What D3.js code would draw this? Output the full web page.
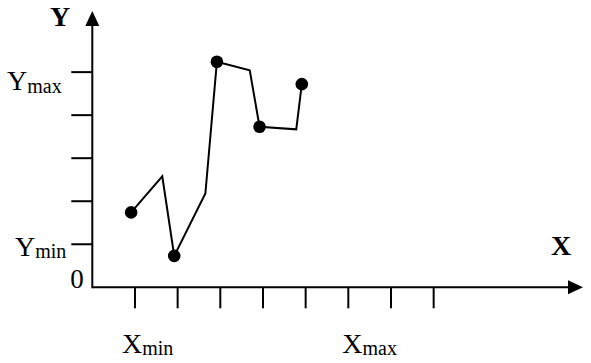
<!DOCTYPE html>
<html>
<head>
  <meta charset="utf-8">
  <script src="https://d3js.org/d3.v7.min.js"></script>
  <style>
    body { margin: 0; background: #fff; }
    text { font-family: "Liberation Serif", "Times New Roman", serif; fill: #000; }
  </style>
</head>
<body>
  <svg id="chart"></svg>
  <script>
    // chart values (axis units: one tick = 1)
    let xTicks = [1, 2, 3, 4, 5, 6, 7, 8];
    let yTicks = [1, 2, 3, 4, 5];
    let xTickLabels = [{ at: 1, main: "X", sub: "min" }, { at: 6, main: "X", sub: "max" }];
    let yTickLabels = [{ at: 5, main: "Y", sub: "max" }, { at: 1, main: "Y", sub: "min" }];
    let lineX = [0.91, 1.64, 1.92, 2.65, 2.92, 3.69, 3.92, 4.78, 4.91];
    let lineY = [1.74, 2.58, 0.73, 2.18, 5.24, 5.04, 3.73, 3.67, 4.72];
    let dotX = [0.91, 1.92, 2.92, 3.92, 4.91];
    let dotY = [1.74, 0.73, 5.24, 3.73, 4.72];
    let xEnd = 11.5, yEnd = 6.42;

    let width = 591, height = 363;
    let svg = d3.select("#chart").attr("width", width).attr("height", height);

    let x = d3.scaleLinear().domain([0, xEnd]).range([92.3, 583]);
    let y = d3.scaleLinear().domain([0, yEnd]).range([287.3, 11]);

    let arrowLen = 15, arrowHalf = 7;

    // axes lines
    svg.append("line")
      .attr("x1", x(0)).attr("y1", y(0))
      .attr("x2", x(xEnd) - arrowLen + 1).attr("y2", y(0))
      .attr("stroke", "#000").attr("stroke-width", 2);
    svg.append("line")
      .attr("x1", x(0)).attr("y1", y(0) + 1)
      .attr("x2", x(0)).attr("y2", y(yEnd) + arrowLen - 1)
      .attr("stroke", "#000").attr("stroke-width", 2);

    // arrow heads
    svg.append("path")
      .attr("d", `M${x(xEnd)},${y(0)} L${x(xEnd) - arrowLen},${y(0) - arrowHalf} L${x(xEnd) - arrowLen},${y(0) + arrowHalf} Z`)
      .attr("fill", "#000");
    svg.append("path")
      .attr("d", `M${x(0)},${y(yEnd)} L${x(0) - arrowHalf},${y(yEnd) + arrowLen} L${x(0) + arrowHalf},${y(yEnd) + arrowLen} Z`)
      .attr("fill", "#000");

    // ticks
    svg.selectAll(".xtick").data(xTicks).enter().append("line")
      .attr("class", "xtick")
      .attr("x1", d => x(d)).attr("x2", d => x(d))
      .attr("y1", y(0)).attr("y2", y(0) + 21)
      .attr("stroke", "#000").attr("stroke-width", 2);
    svg.selectAll(".ytick").data(yTicks).enter().append("line")
      .attr("class", "ytick")
      .attr("x1", x(0) - 21).attr("x2", x(0))
      .attr("y1", d => y(d)).attr("y2", d => y(d))
      .attr("stroke", "#000").attr("stroke-width", 2);

    // tick labels with subscripts
    let subLabel = (sel) => {
      sel.append("tspan").attr("font-size", 28).text(d => d.main);
      sel.append("tspan").attr("font-size", 20).attr("dy", 2.5).text(d => d.sub);
    };
    let xOff = { 1: -13, 6: -6 };
    svg.selectAll(".xlab").data(xTickLabels).enter().append("text")
      .attr("class", "xlab")
      .attr("x", d => x(d.at) + xOff[d.at])
      .attr("y", 352.7)
      .call(subLabel);
    let yOff = { 5: [7, 18.3], 1: [15, 11.4] };
    svg.selectAll(".ylab").data(yTickLabels).enter().append("text")
      .attr("class", "ylab")
      .attr("x", d => yOff[d.at][0])
      .attr("y", d => y(d.at) + yOff[d.at][1])
      .call(subLabel);

    svg.append("text")
      .attr("x", x(0) - 22).attr("y", y(0) + 0.5)
      .attr("font-size", 27)
      .text("0");

    // axis names
    svg.append("text")
      .attr("x", 551).attr("y", 255)
      .attr("font-size", 28).attr("font-weight", "bold")
      .text("X");
    svg.append("text")
      .attr("x", 50).attr("y", 26)
      .attr("font-size", 28).attr("font-weight", "bold")
      .text("Y");

    // data line
    let pts = lineX.map((d, i) => [d, lineY[i]]);
    svg.append("path")
      .attr("d", d3.line().x(d => x(d[0])).y(d => y(d[1]))(pts))
      .attr("fill", "none")
      .attr("stroke", "#000")
      .attr("stroke-width", 2)
      .attr("stroke-linejoin", "miter");

    // markers
    svg.selectAll(".dot").data(dotX).enter().append("circle")
      .attr("class", "dot")
      .attr("cx", d => x(d))
      .attr("cy", (d, i) => y(dotY[i]))
      .attr("r", 6.3)
      .attr("fill", "#000");
  </script>
</body>
</html>
